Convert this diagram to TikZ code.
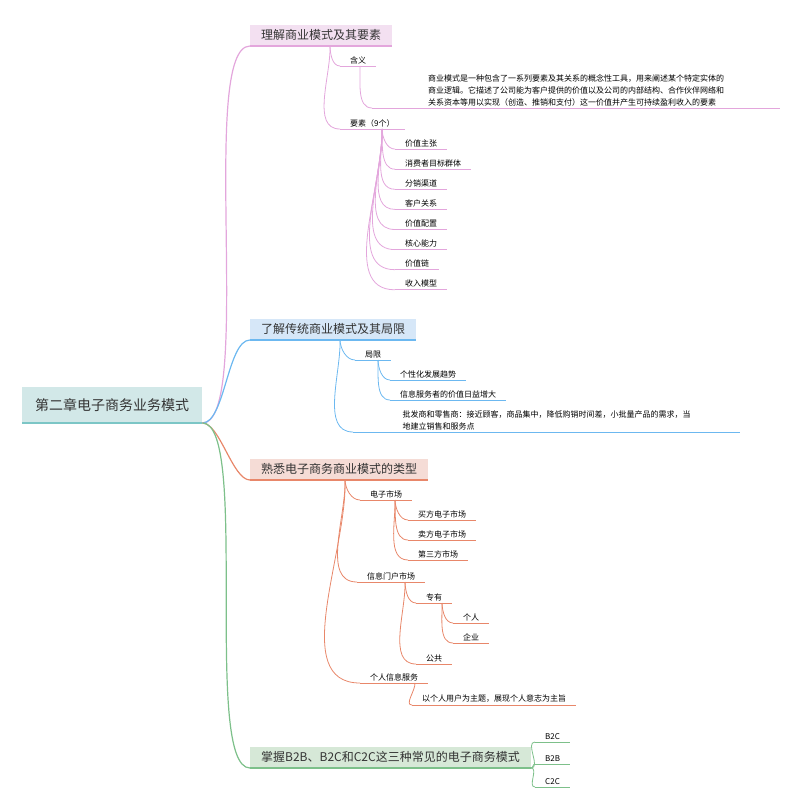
\documentclass[tikz,border=0pt]{standalone}
\usepackage{fontspec}
\setmainfont{Noto Sans CJK SC}
\usetikzlibrary{calc}
\definecolor{rootfill}{HTML}{D2E8E8}
\definecolor{rootline}{HTML}{7CC6C6}
\definecolor{pinkfill}{HTML}{F3E0F1}
\definecolor{pinkline}{HTML}{E3A6DC}
\definecolor{bluefill}{HTML}{D6E7F8}
\definecolor{blueline}{HTML}{6CB8F0}
\definecolor{orangefill}{HTML}{F5DCD6}
\definecolor{orangeline}{HTML}{E8876A}
\definecolor{greenfill}{HTML}{D6E8D7}
\definecolor{greenline}{HTML}{7DC08A}
\tikzset{
  topic/.style={anchor=south west, inner xsep=11pt, inner ysep=5pt, font=\fontsize{12}{14}\selectfont, text=black!80},
  leaf/.style={anchor=south west, inner xsep=10pt, inner ysep=2pt, font=\fontsize{8}{12}\selectfont,
    append after command={\pgfextra{\draw[line width=0.8pt,#1] (\tikzlastnode.south west) -- (\tikzlastnode.south east);}}},
  conn/.style={line width=0.8pt, out=-88, in=180, looseness=0.9},
}
\begin{document}
\begin{tikzpicture}[x=1pt,y=-1pt]
\useasboundingbox (0,0) rectangle (800,805);
% root
\node[topic, fill=rootfill, minimum width=180pt, minimum height=36pt, font=\fontsize{14}{16}\selectfont] (root) at (22,423) {第二章电子商务业务模式};
\draw[rootline, line width=1.5pt] (root.south west) -- (root.south east);
% branches
\node[topic, fill=pinkfill] (b1) at (250,46) {理解商业模式及其要素};
\node[topic, fill=bluefill] (b2) at (250,340) {了解传统商业模式及其局限};
\node[topic, fill=orangefill] (b3) at (250,480) {熟悉电子商务商业模式的类型};
\node[topic, fill=greenfill] (b4) at (250,768) {掌握B2B、B2C和C2C这三种常见的电子商务模式};
\draw[pinkline, line width=1.5pt] (b1.south west) -- (b1.south east);
\draw[blueline, line width=1.5pt] (b2.south west) -- (b2.south east);
\draw[orangeline, line width=1.5pt] (b3.south west) -- (b3.south east);
\draw[greenline, line width=1.5pt] (b4.south west) -- (b4.south east);
\coordinate (r0) at ($(root.south east)+(0,0)$);
\draw[pinkline, line width=1.2pt] (r0) to[out=0, in=180, looseness=0.35] ($(b1.south west)$);
\draw[blueline, line width=1.2pt] (r0) to[out=0, in=180, looseness=0.6] (b2.south west);
\draw[orangeline, line width=1.2pt] (r0) to[out=0, in=180, looseness=0.6] (b3.south west);
\draw[greenline, line width=1.2pt] (r0) to[out=0, in=180, looseness=0.35] (b4.south west);

% branch 1
\node[leaf=pinkline] (hanyi) at (340,66) {含义};
\node[leaf=pinkline, minimum width=408pt, align=left, inner xsep=15pt, font=\fontsize{8}{12}\selectfont] (dingyi) at (372,108) {商业模式是一种包含了一系列要素及其关系的概念性工具，用来阐述某个特定实体的\\商业逻辑。它描述了公司能为客户提供的价值以及公司的内部结构、合作伙伴网络和\\关系资本等用以实现（创造、推销和支付）这一价值并产生可持续盈利收入的要素};
\node[leaf=pinkline] (yaosu) at (340,129) {要素（9个）};
\foreach \t [count=\i] in {价值主张,消费者目标群体,分销渠道,客户关系,价值配置,核心能力,价值链,收入模型}
  \node[leaf=pinkline] (ys\i) at (395,{129+20.1*\i}) {\t};
\coordinate (k1) at ($(b1.south west)+(80,0)$);
\coordinate (k11) at ($(hanyi.south west)+(20,0)$);
\coordinate (k12) at ($(yaosu.south west)+(42,0)$);
\draw[pinkline, conn] (k1) to (hanyi.south west);
\draw[pinkline, conn] (k1) to (yaosu.south west);
\draw[pinkline, conn] (k11) to (dingyi.south west);
\foreach \i in {1,...,8} \draw[pinkline, conn] (k12) to (ys\i.south west);

% branch 2
\node[leaf=blueline] (juxian) at (355,360) {局限};
\node[leaf=blueline] (gx) at (390,380) {个性化发展趋势};
\node[leaf=blueline] (xx) at (390,400) {信息服务者的价值日益增大};
\node[leaf=blueline, minimum width=387pt, align=left, inner xsep=10pt] (pf) at (353,432) {批发商和零售商：接近顾客，商品集中，降低购销时间差，小批量产品的需求，当\\地建立销售和服务点};
\coordinate (k2) at ($(b2.south west)+(90,0)$);
\coordinate (k21) at ($(juxian.south west)+(23,0)$);
\draw[blueline, conn] (k2) to (juxian.south west);
\draw[blueline, conn] (k2) to (pf.south west);
\draw[blueline, conn] (k21) to (gx.south west);
\draw[blueline, conn] (k21) to (xx.south west);

% branch 3
\node[leaf=orangeline] (dz) at (360,500) {电子市场};
\node[leaf=orangeline] (mf) at (408,520) {买方电子市场};
\node[leaf=orangeline] (maif) at (408,540) {卖方电子市场};
\node[leaf=orangeline] (ds) at (408,560) {第三方市场};
\node[leaf=orangeline] (mh) at (357,582) {信息门户市场};
\node[leaf=orangeline] (zy) at (416,603) {专有};
\node[leaf=orangeline] (gr) at (453,623) {个人};
\node[leaf=orangeline] (qy) at (453,643) {企业};
\node[leaf=orangeline] (gg) at (416,664) {公共};
\node[leaf=orangeline] (grfw) at (360,683) {个人信息服务};
\node[leaf=orangeline] (yg) at (412,705) {以个人用户为主题，展现个人意志为主旨};
\coordinate (k3) at ($(b3.south west)+(95,0)$);
\coordinate (k31) at ($(dz.south west)+(35,0)$);
\coordinate (k32) at ($(mh.south west)+(48,0)$);
\coordinate (k33) at ($(zy.south west)+(26,0)$);
\coordinate (k34) at ($(grfw.south west)+(55,0)$);
\foreach \n in {dz,mh,grfw} \draw[orangeline, conn] (k3) to (\n.south west);
\foreach \n in {mf,maif,ds} \draw[orangeline, conn] (k31) to (\n.south west);
\foreach \n in {zy,gg} \draw[orangeline, conn] (k32) to (\n.south west);
\foreach \n in {gr,qy} \draw[orangeline, conn] (k33) to (\n.south west);
\draw[orangeline, conn] (k34) to (yg.south west);

% branch 4
\node[leaf=greenline] (b2c) at (535,742) {B2C};
\node[leaf=greenline] (b2b) at (535,764) {B2B};
\node[leaf=greenline] (c2c) at (535,787) {C2C};
\foreach \n in {b2c,b2b,c2c} \draw[greenline, line width=0.8pt] (b4.south east) to[out=0, in=180] (\n.south west);
\end{tikzpicture}
\end{document}
